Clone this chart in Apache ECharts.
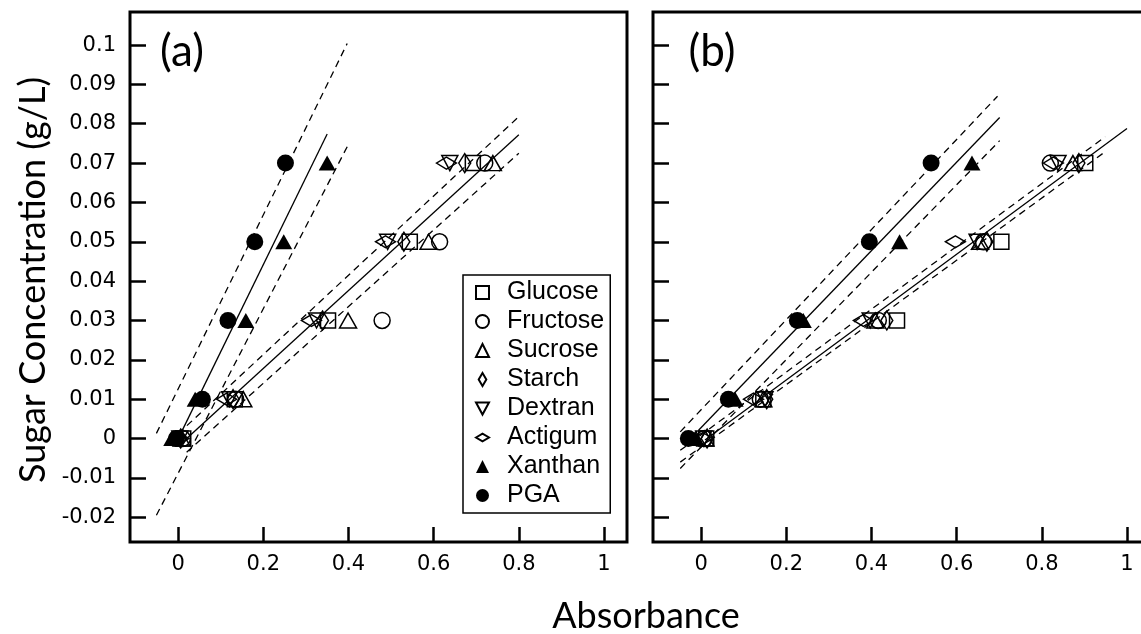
<!DOCTYPE html>
<html>
<head>
<meta charset="utf-8">
<script src="https://cdn.jsdelivr.net/npm/echarts@6/dist/echarts.min.js"></script>
<style>
  html, body { margin: 0; padding: 0; background: #fff; }
  #chart { width: 1141px; height: 634px; }
</style>
</head>
<body>
<div id="chart"></div>
<script>
// Standard concentrations (g/L) measured for every sugar
const concentration = [0, 0.01, 0.03, 0.05, 0.07];
const sugars = ['Glucose', 'Fructose', 'Sucrose', 'Starch', 'Dextran', 'Actigum', 'Xanthan', 'PGA'];

// Panel (a): absorbance at each concentration
const glucoseA  = [0.012, 0.133, 0.352, 0.544, 0.692];
const fructoseA = [0.010, 0.135, 0.479, 0.614, 0.720];
const sucroseA  = [0.008, 0.153, 0.399, 0.588, 0.739];
const starchA   = [0.006, 0.129, 0.339, 0.530, 0.673];
const dextranA  = [0.004, 0.121, 0.325, 0.492, 0.638];
const actigumA  = [0.002, 0.114, 0.313, 0.487, 0.630];
const xanthanA  = [-0.015, 0.040, 0.159, 0.248, 0.350];
const pgaA      = [-0.004, 0.057, 0.117, 0.180, 0.252];

// Panel (b): absorbance at each concentration
const glucoseB  = [0.012, 0.146, 0.460, 0.705, 0.902];
const fructoseB = [0.008, 0.139, 0.416, 0.663, 0.820];
const sucroseB  = [0.010, 0.146, 0.409, 0.655, 0.873];
const starchB   = [0.014, 0.154, 0.436, 0.671, 0.887];
const dextranB  = [0.006, 0.150, 0.397, 0.648, 0.838];
const actigumB  = [0.004, 0.123, 0.381, 0.597, 0.827];
const xanthanB  = [-0.014, 0.080, 0.240, 0.466, 0.636];
const pgaB      = [-0.030, 0.064, 0.226, 0.395, 0.540];

// Calibration fits (end points, [absorbance, concentration])
const gumFitA      = [[0.004, 0.0008], [0.350, 0.0774]];
const gumUpperA    = [[-0.051, 0.0013], [0.397, 0.1004]];
const gumLowerA    = [[-0.051, -0.0195], [0.401, 0.0750]];
const sugarFitA    = [[0.015, -0.0005], [0.800, 0.0772]];
const sugarUpperA  = [[0.000, 0.0012], [0.798, 0.0816]];
const sugarLowerA  = [[0.020, -0.0035], [0.800, 0.0725]];

const gumFitB      = [[-0.006, 0.0021], [0.701, 0.0816]];
const gumUpperB    = [[-0.049, 0.0017], [0.696, 0.0870]];
const gumLowerB    = [[-0.049, -0.0076], [0.701, 0.0757]];
const sugarFitB    = [[0.009, -0.0004], [1.000, 0.0788]];
const sugarUpperB  = [[-0.049, -0.0030], [0.949, 0.0767]];
const sugarLowerB  = [[-0.049, -0.0060], [0.949, 0.0729]];

// Axis ticks
const xTicks = [0, 0.2, 0.4, 0.6, 0.8, 1];
const yTicks = [-0.02, -0.01, 0, 0.01, 0.02, 0.03, 0.04, 0.05, 0.06, 0.07, 0.08, 0.09, 0.1];

const panelA = [glucoseA, fructoseA, sucroseA, starchA, dextranA, actigumA, xanthanA, pgaA];
const panelB = [glucoseB, fructoseB, sucroseB, starchB, dextranB, actigumB, xanthanB, pgaB];

const DOWN_TRI = 'path://M0,0 L16,0 L8,15 Z';
const WIDE_DIAMOND = 'path://M0,6 L10,0 L20,6 L10,12 Z';
const TALL_DIAMOND = 'path://M5,0 L10,8.5 L5,17 L0,8.5 Z';

const markers = [
  { symbol: 'rect', size: 15, filled: false },
  { symbol: 'circle', size: 16, filled: false },
  { symbol: 'triangle', size: [17, 15], filled: false },
  { symbol: 'diamond', size: [12, 19], filled: false },
  { symbol: DOWN_TRI, size: [16, 15], filled: false },
  { symbol: WIDE_DIAMOND, size: [20, 12], filled: false },
  { symbol: 'triangle', size: [17, 15], filled: true },
  { symbol: 'circle', size: 17, filled: true }
];
const legendIcons = ['rect', 'circle', 'triangle', TALL_DIAMOND, DOWN_TRI, WIDE_DIAMOND, 'triangle', 'circle'];

const fmt = v => String(+v.toFixed(2));
const tickFont = { fontSize: 21, fontFamily: 'DejaVu Sans', color: '#000' };

function xAxisFor(i) {
  return {
    type: 'value', gridIndex: i, min: -0.113, max: 1.054,
    axisLine: { show: false, onZero: false },
    splitLine: { show: false },
    axisTick: { inside: true, length: 15, customValues: xTicks, lineStyle: { color: '#000', width: 2.5 } },
    axisLabel: Object.assign({ customValues: xTicks, margin: 12, formatter: fmt }, tickFont)
  };
}
function yAxisFor(i, labels) {
  return {
    type: 'value', gridIndex: i, min: -0.0263, max: 0.1084,
    axisLine: { show: false, onZero: false },
    splitLine: { show: false },
    axisTick: { inside: true, length: 16, customValues: yTicks, lineStyle: { color: '#000', width: 2.5 } },
    axisLabel: Object.assign({ show: labels, customValues: yTicks, margin: 14, formatter: fmt }, tickFont)
  };
}

function fitLine(data, dashed, i) {
  return {
    type: 'line', name: 'fit', xAxisIndex: i, yAxisIndex: i, data: data,
    showSymbol: false, silent: true, z: 1, animation: false,
    lineStyle: { color: '#000', width: 1.3, type: dashed ? [7, 5] : 'solid' }
  };
}

const series = [];
[panelA, panelB].forEach((panel, i) => {
  const fits = i === 0
    ? [[gumFitA, false], [gumUpperA, true], [gumLowerA, true], [sugarFitA, false], [sugarUpperA, true], [sugarLowerA, true]]
    : [[gumFitB, false], [gumUpperB, true], [gumLowerB, true], [sugarFitB, false], [sugarUpperB, true], [sugarLowerB, true]];
  fits.forEach(f => series.push(fitLine(f[0], f[1], i)));
  panel.forEach((vals, k) => {
    const m = markers[k];
    series.push({
      type: 'scatter', name: sugars[k], xAxisIndex: i, yAxisIndex: i,
      symbol: m.symbol, symbolSize: m.size, z: 3, animation: false,
      data: vals.map((x, j) => [x, concentration[j]]),
      itemStyle: {
        color: m.filled ? '#000' : 'rgba(0,0,0,0)',
        borderColor: '#000', borderWidth: m.filled ? 0 : 1.5, opacity: 1
      }
    });
  });
});

const gridBase = {
  top: 12, width: 497, height: 530, show: true,
  borderColor: '#000', borderWidth: 3, backgroundColor: 'rgba(0,0,0,0)',
  containLabel: false, outerBoundsMode: 'none'
};

const chart = echarts.init(document.getElementById('chart'), null, { renderer: 'canvas' });
chart.setOption({
  animation: false,
  backgroundColor: '#fff',
  grid: [
    Object.assign({ left: 130 }, gridBase),
    Object.assign({ left: 653 }, gridBase)
  ],
  xAxis: [xAxisFor(0), xAxisFor(1)],
  yAxis: [yAxisFor(0, true), yAxisFor(1, false)],
  legend: {
    data: sugars.map((s, k) => ({ name: s, icon: legendIcons[k] })),
    orient: 'vertical', left: 463, top: 275,
    padding: [5, 6, 5, 12], itemGap: 4,
    itemWidth: 13, itemHeight: 13, symbolKeepAspect: true,
    selectedMode: false,
    borderColor: '#000', borderWidth: 1.5, borderRadius: 0, backgroundColor: '#fff',
    formatter: name => '{t|' + name + '}',
    textStyle: {
      fontSize: 25, fontFamily: 'Liberation Sans', color: '#000',
      rich: { t: { fontSize: 25, fontFamily: 'Liberation Sans', color: '#000', padding: [0, 0, 0, 13] } }
    }
  },
  graphic: [
    { type: 'text', x: 182, y: 52, z: 10, style: { text: '(a)', fontSize: 44, fontFamily: 'Lato', fill: '#000', align: 'center', verticalAlign: 'middle' } },
    { type: 'text', x: 712, y: 52, z: 10, style: { text: '(b)', fontSize: 44, fontFamily: 'Lato', fill: '#000', align: 'center', verticalAlign: 'middle' } },
    { type: 'text', x: 646, y: 616, z: 10, style: { text: 'Absorbance', fontSize: 36, fontFamily: 'Lato', fill: '#000', align: 'center', verticalAlign: 'middle' } },
    { type: 'text', x: 33, y: 280, rotation: Math.PI / 2, z: 10, style: { text: 'Sugar Concentration (g/L)', fontSize: 36, fontFamily: 'Lato', fill: '#000', align: 'center', verticalAlign: 'middle' } }
  ],
  series: series
});
</script>
</body>
</html>
